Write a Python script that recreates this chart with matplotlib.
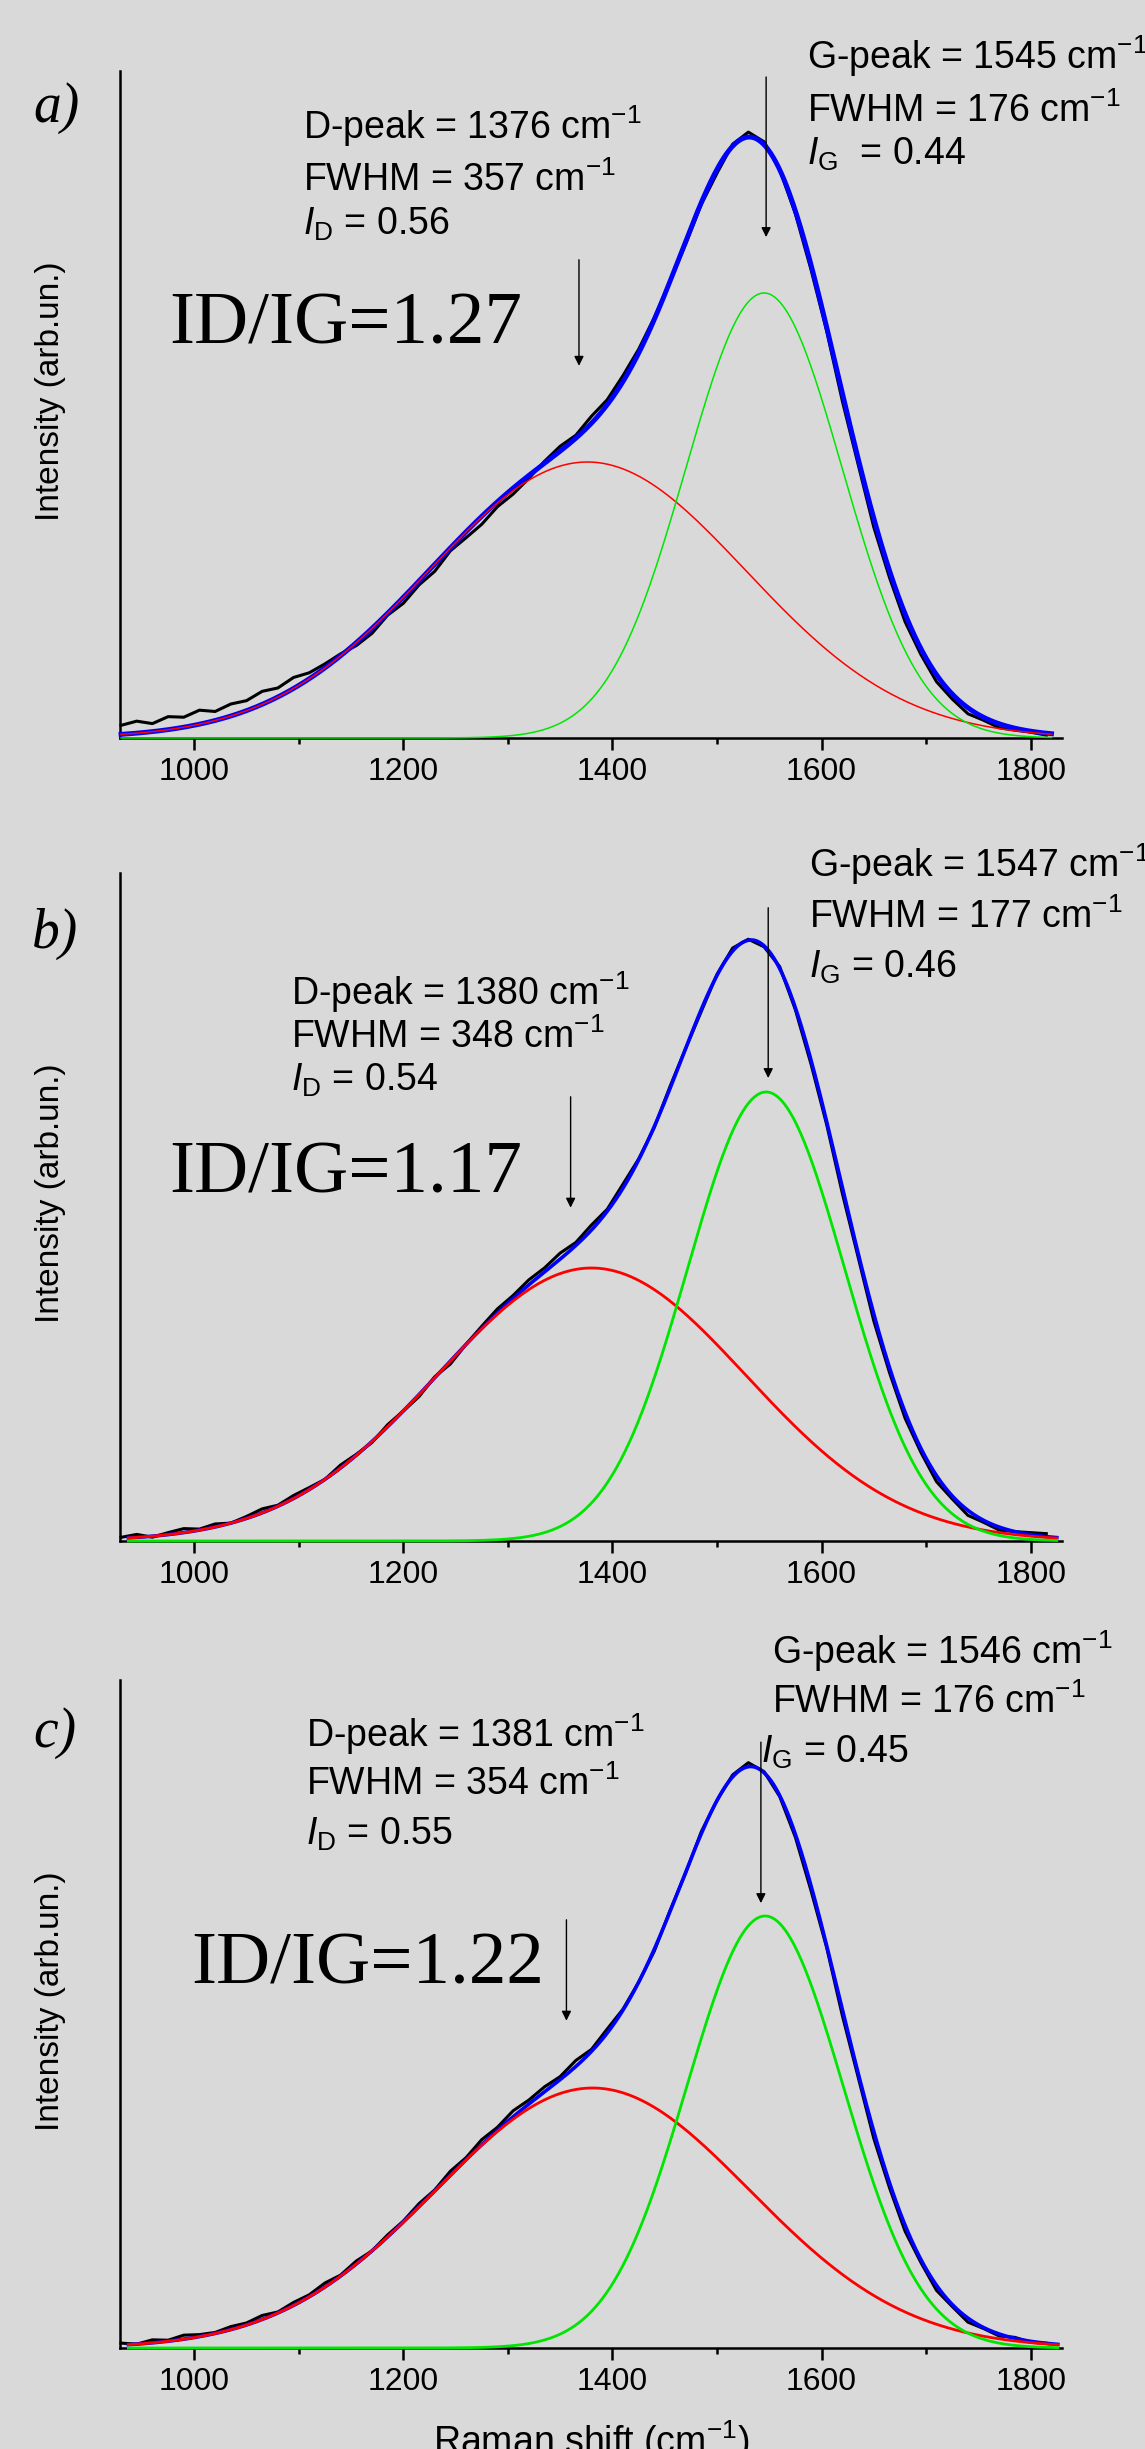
import numpy as np
import matplotlib
matplotlib.use('Agg')
import matplotlib.pyplot as plt
from matplotlib.ticker import MultipleLocator

W, H = 1145, 2449
plt.rcParams['font.family'] = ['Liberation Sans', 'DejaVu Sans']
plt.rcParams['mathtext.fontset'] = 'custom'
plt.rcParams['mathtext.rm'] = 'Liberation Sans'
plt.rcParams['mathtext.it'] = 'Liberation Sans:italic'
plt.rcParams['mathtext.bf'] = 'Liberation Sans:bold'

# ---------------- data ----------------
panels = ['a', 'b', 'c']
d_center = [1376, 1380, 1381]
d_fwhm = [357, 348, 354]
d_frac = [0.56, 0.54, 0.55]
g_center = [1545, 1547, 1546]
g_fwhm = [176, 177, 176]
g_frac = [0.44, 0.46, 0.45]
id_ig = [1.27, 1.17, 1.22]
d_height = [276, 273, 260]      # arb. units
g_height = [445, 449, 432]      # arb. units
y_top = [667, 668, 668]
fit_start = [930, 937, 937]
fit_end = [1820, 1825, 1826]

# measured spectrum: deviation of the black trace from the fit, read every 15 cm-1
meas_x = np.arange(930, 1816, 15)
res_a = [9, 12, 8, 13, 10, 14, 9, 12, 10, 13, 9, 11,
         6, 4, 2, -3, -5, -2, -6,
         -4, -7, -3, -6, -8, -5, -6, -3,
         2, 5, 3, 7, 5, 6,
         4, 2, 0, -3, -2, -4,
         2, 5, 3, 0,
         -3, -5, -4, -8, -6, -9, -7, -8, -6,
         -7, -5, -6, -3, -4, -2, -1, -2]
res_b = [1, 3, -1, 2, 4, 1, 3, 0, 2, 4, 1, 3,
         2, 0, 3, 1, -1, 2, 0,
         -2, 1, -3, 0, 2, 4, 3, 5,
         4, 6, 3, 5, 2, 4,
         1, -1, 2, 0, -2, 1,
         3, 1, -1, 2,
         -2, -4, -3, -6, -4, -7, -5, -6, -4,
         -6, -3, -5, -2, -3, 0, 2, 3]
res_c = [2, 0, 3, 1, 4, 2, 1, 3, 2, 4, 1, 3,
         2, 4, 1, 3, 0, 2, 1,
         3, 1, 4, 2, 5, 3, 6, 4,
         5, 3, 6, 2, 4, 1,
         0, -2, 1, -1, 2, 0,
         2, 4, 1, -1,
         -3, -5, -2, -6, -4, -7, -5, -6, -3,
         -5, -2, -4, -1, -2, 1, -1, 0]
residuals = [res_a, res_b, res_c]
xticks = [1000, 1200, 1400, 1600, 1800]

# ---------------- layout ----------------
fig = plt.figure(figsize=(W / 100, H / 100), dpi=100, facecolor='#d9d9d9')

def ftxt(x, y, s, **kw):
    return fig.text(x / W, 1 - y / H, s, **kw)

ax_box = [(71, 738), (873, 1541), (1680, 2348)]
left_px, right_px = 120, 1062

ann = [
    dict(d_xy=(303, [139, 191, 235]), g_xy=([807, 807, 807], [69, 122, 165]),
         r_xy=(169, 343), lab=(33, 122), ylab=391,
         d_arrow=(1368, 0.717, 0.558), g_arrow=(1547, 0.991, 0.751),
         fit_lw=3.5, comp_lw=1.1, gsp='  '),
    dict(d_xy=(291, [1005, 1048, 1091]), g_xy=([809, 809, 809], [877, 928, 978]),
         r_xy=(169, 1193), lab=(32, 948), ylab=1193,
         d_arrow=(1360, 0.665, 0.499), g_arrow=(1549, 0.948, 0.693),
         fit_lw=2.6, comp_lw=2.0, gsp=' '),
    dict(d_xy=(306, [1747, 1795, 1845]), g_xy=([772, 772, 761], [1664, 1713, 1763]),
         r_xy=(191, 1984), lab=(33, 1747), ylab=2001,
         d_arrow=(1356, 0.641, 0.490), g_arrow=(1542, 0.907, 0.666),
         fit_lw=2.6, comp_lw=2.0, gsp=' '),
]

def gauss(x, c, w, h):
    return h * np.exp(-4 * np.log(2) * (x - c) ** 2 / w ** 2)

for i, p in enumerate(panels):
    top, bot = ax_box[i]
    ax = fig.add_axes([left_px / W, 1 - bot / H, (right_px - left_px) / W, (bot - top) / H])
    ax.set_facecolor('none')
    a = ann[i]

    xf = np.linspace(fit_start[i], fit_end[i], 700)
    dcurve = gauss(xf, d_center[i], d_fwhm[i], d_height[i])
    gcurve = gauss(xf, g_center[i], g_fwhm[i], g_height[i])
    fit = dcurve + gcurve

    mx = meas_x
    meas = gauss(mx, d_center[i], d_fwhm[i], d_height[i]) + \
        gauss(mx, g_center[i], g_fwhm[i], g_height[i]) + np.array(residuals[i], float)

    ax.plot(mx, meas, color='black', lw=2.2, zorder=2, clip_on=False)
    ax.plot(xf, fit, color='#0000ff', lw=a['fit_lw'], zorder=3, clip_on=False)
    ax.plot(xf, dcurve, color='#ff0000', lw=a['comp_lw'], zorder=4, clip_on=False)
    ax.plot(xf, gcurve, color='#00e600', lw=a['comp_lw'], zorder=5, clip_on=False)

    ax.set_xlim(929, 1830)
    ax.set_ylim(0, y_top[i])
    ax.set_xticks(xticks)
    ax.xaxis.set_minor_locator(MultipleLocator(100))
    ax.set_yticks([])
    for s in ['top', 'right']:
        ax.spines[s].set_visible(False)
    for s in ['left', 'bottom']:
        ax.spines[s].set_linewidth(1.8)
    ax.tick_params(axis='x', which='major', direction='out', length=8.6, width=1.8,
                   labelsize=23, pad=5)
    ax.tick_params(axis='x', which='minor', direction='out', length=4.3, width=1.8)

    # arrows
    for (xa, y0, y1) in [a['d_arrow'], a['g_arrow']]:
        ax.annotate('', xy=(xa, y1), xytext=(xa, y0),
                    xycoords=('data', 'axes fraction'), textcoords=('data', 'axes fraction'),
                    arrowprops=dict(arrowstyle='-|>', color='black', lw=1.0,
                                    mutation_scale=14, shrinkA=0, shrinkB=0),
                    annotation_clip=False)

    # annotations
    dx, dys = a['d_xy']
    ftxt(dx, dys[0], f'D-peak = {d_center[i]} cm$^{{-1}}$', fontsize=27, va='baseline')
    ftxt(dx, dys[1], f'FWHM = {d_fwhm[i]} cm$^{{-1}}$', fontsize=27, va='baseline')
    ftxt(dx, dys[2], f'$I_{{\\mathrm{{D}}}}$ = {d_frac[i]:.2f}', fontsize=27, va='baseline')
    gxs, gys = a['g_xy']
    ftxt(gxs[0], gys[0], f'G-peak = {g_center[i]} cm$^{{-1}}$', fontsize=27, va='baseline')
    ftxt(gxs[1], gys[1], f'FWHM = {g_fwhm[i]} cm$^{{-1}}$', fontsize=27, va='baseline')
    ftxt(gxs[2], gys[2], f'$I_{{\\mathrm{{G}}}}${a["gsp"]}= {g_frac[i]:.2f}', fontsize=27, va='baseline')

    rx, ry = a['r_xy']
    ftxt(rx, ry, f'ID/IG={id_ig[i]:.2f}', fontsize=54, va='baseline',
         family=['Liberation Serif', 'DejaVu Serif'])
    lx, ly = a['lab']
    ftxt(lx, ly, f'{p})', fontsize=40, va='baseline', style='italic',
         family=['Liberation Serif', 'DejaVu Serif'])
    ftxt(50, a['ylab'], 'Intensity (arb.un.)', fontsize=24, rotation=90,
         ha='center', va='center')

ftxt(591, 2454, 'Raman shift (cm$^{-1}$)', fontsize=27, ha='center', va='baseline')

fig.savefig('out.png', dpi=100, facecolor=fig.get_facecolor())
